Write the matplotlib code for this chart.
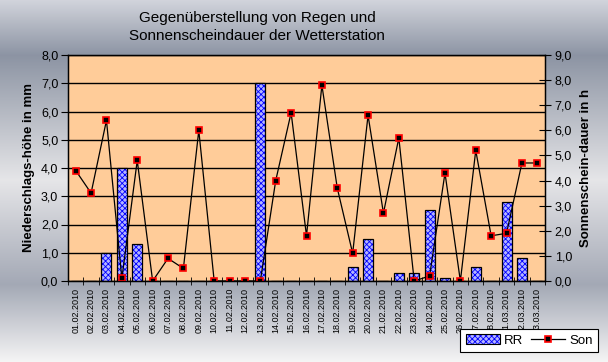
import numpy as np
import matplotlib.pyplot as plt
from matplotlib.patches import Patch
from matplotlib.lines import Line2D

plt.rcParams['font.family'] = ['Liberation Sans', 'DejaVu Sans']
plt.rcParams['hatch.linewidth'] = 0.6

dates = ['01.02.2010', '02.02.2010', '03.02.2010', '04.02.2010', '05.02.2010',
         '06.02.2010', '07.02.2010', '08.02.2010', '09.02.2010', '10.02.2010',
         '11.02.2010', '12.02.2010', '13.02.2010', '14.02.2010', '15.02.2010',
         '16.02.2010', '17.02.2010', '18.02.2010', '19.02.2010', '20.02.2010',
         '21.02.2010', '22.02.2010', '23.02.2010', '24.02.2010', '25.02.2010',
         '26.02.2010', '27.02.2010', '28.02.2010', '01.03.2010', '02.03.2010',
         '03.03.2010']
rr = [0, 0, 1.0, 4.0, 1.3, 0, 0, 0, 0, 0, 0, 0, 7.0, 0, 0, 0, 0, 0, 0.5, 1.5,
      0, 0.3, 0.3, 2.5, 0.1, 0, 0.5, 0, 2.8, 0.8, 0]
son = [4.4, 3.5, 6.4, 0.1, 4.8, 0.0, 0.9, 0.5, 6.0, 0.0, 0.0, 0.0, 0.0, 4.0,
       6.7, 1.8, 7.8, 3.7, 1.1, 6.6, 2.7, 5.7, 0.0, 0.2, 4.3, 0.0, 5.2, 1.8,
       1.9, 4.7, 4.7]

fig = plt.figure(figsize=(6.08, 3.62), dpi=100)

# background gradient
bg = fig.add_axes([0, 0, 1, 1], zorder=-10)
ys = np.linspace(0, 362, 362)
stops_y = [0, 55, 180, 285, 362]
stops_c = np.array([[0.82, 0.83, 0.86], [0.55, 0.58, 0.64], [0.90, 0.90, 0.91],
                    [0.64, 0.66, 0.71], [0.96, 0.96, 0.96]])
grad = np.stack([np.interp(ys, stops_y, stops_c[:, i]) for i in range(3)], axis=1)
bg.imshow(grad[:, None, :], aspect='auto', extent=[0, 1, 1, 0])
bg.axis('off')

ax = fig.add_axes([68 / 608, 81 / 362, 477 / 608, 226 / 362])
ax.set_facecolor('#FFCC99')
x = np.arange(len(dates))
ax.bar(x, rr, width=0.65, color='#b4b4ff', edgecolor='#0000ff', hatch='xxxxxx',
       linewidth=0, zorder=2)
ax.bar(x, rr, width=0.65, color='none', edgecolor='black', linewidth=0.9, zorder=3)
ax.set_ylim(0, 8)
ax.set_xlim(-0.5, len(dates) - 0.5)
ax.set_yticks(np.arange(0, 9))
ax.set_yticklabels([f'{v:.1f}'.replace('.', ',') for v in np.arange(0, 9)], fontsize=9)
ax.yaxis.grid(True, color='black', linewidth=1)
ax.set_axisbelow(True)
ax.set_xticks(x)
ax.set_xticklabels(dates, rotation=90, fontsize=6.5)
ax.set_xticks(np.arange(-0.5, len(dates)), minor=True)
ax.tick_params(axis='x', which='major', length=0, pad=5)
ax.tick_params(axis='x', which='minor', length=6, direction='inout')
ax.tick_params(axis='y', length=5, direction='out', pad=2)
ax.set_ylabel('Niederschlags-höhe in mm', fontsize=9.5, fontweight='bold', labelpad=4)
for s in ax.spines.values():
    s.set_linewidth(1)

ax2 = ax.twinx()
ax2.plot(x, son, color='black', linewidth=0.9, marker='s', markersize=5,
         markerfacecolor='black', markeredgecolor='red', markeredgewidth=1.2)
ax2.set_ylim(0, 9)
ax2.set_yticks(np.arange(0, 10))
ax2.set_yticklabels([f'{v:.1f}'.replace('.', ',') for v in np.arange(0, 10)], fontsize=9)
ax2.tick_params(axis='y', length=8, direction='inout', pad=3)
ax2.set_ylabel('Sonnenschein-dauer in h', fontsize=9.5, fontweight='bold', labelpad=6)

fig.text(257 / 608, 1 - 27 / 362, 'Gegenüberstellung von Regen und\nSonnenscheindauer der Wetterstation',
         ha='center', va='center', fontsize=11, linespacing=1.45)

h_rr = (Patch(facecolor='#b4b4ff', edgecolor='#0000ff', hatch='xxxxxx', linewidth=0),
        Patch(facecolor='none', edgecolor='black', linewidth=0.8))
h_son = Line2D([], [], color='black', linewidth=0.9, marker='s', markersize=5,
               markerfacecolor='black', markeredgecolor='red', markeredgewidth=1.2)
leg = fig.legend([h_rr, h_son], ['RR', 'Son'], loc='lower right',
                 bbox_to_anchor=(598 / 608, 10 / 362), ncol=2, fontsize=9.5,
                 frameon=True, fancybox=False, borderpad=0.4, columnspacing=0.6,
                 handlelength=2.6, handletextpad=0.3, borderaxespad=0)
leg.get_frame().set_edgecolor('black')
leg.get_frame().set_linewidth(0.8)
leg.get_frame().set_facecolor('white')
leg.get_frame().set_alpha(1)

fig.savefig('out.png', dpi=100)
